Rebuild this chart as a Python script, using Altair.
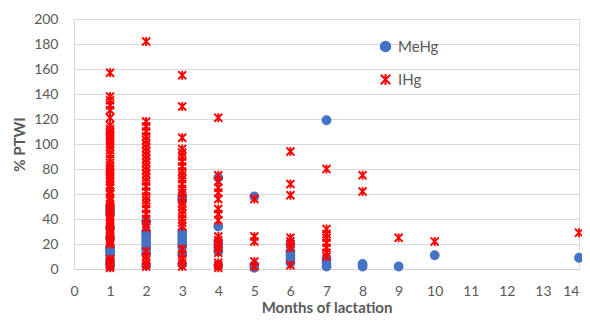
import altair as alt
import pandas as pd

# MeHg series (months, % PTWI)
mehg_months = [1]*12 + [2]*9 + [3]*9 + [4]*6 + [5]*3 + [6]*5 + [7]*4 + [8]*2 + [9, 10, 14]
mehg_values = [2, 5, 8, 12, 14, 16, 18, 25, 33, 44, 47, 50,
               3, 12, 16, 19, 22, 25, 28, 30, 38,
               4, 12, 18, 21, 24, 27, 30, 55, 58,
               3, 14, 18, 22, 34, 73,
               1, 3, 58,
               5, 8, 11, 14, 20,
               2, 5, 8, 119,
               2, 4,
               2, 11, 9]

# IHg series
ihg_m1 = [157, 138, 135, 131, 127, 121, 115, 112, 110, 108, 106, 104, 102, 100, 98, 95, 92, 88,
          85, 82, 80, 78, 76, 74, 72, 70, 67, 65, 62, 60, 57, 55, 52, 50, 48, 46, 42, 40, 38, 36,
          34, 32, 30, 28, 26, 24, 22, 20, 8, 6, 4, 2, 1]
ihg_m2 = [182, 118, 114, 110, 106, 103, 100, 97, 94, 91, 88, 85, 82, 79, 76, 73, 70, 66, 62, 58,
          55, 52, 48, 44, 40, 36, 33, 14, 10, 7, 4, 2]
ihg_m3 = [155, 130, 105, 96, 93, 90, 86, 82, 78, 75, 72, 68, 64, 61, 57, 53, 50, 47, 44, 40, 37,
          34, 16, 12, 8, 5, 2]
ihg_m4 = [121, 75, 70, 65, 61, 56, 48, 44, 39, 26, 23, 20, 17, 13, 5, 3, 1]
ihg_m5 = [56, 26, 22, 6, 2]
ihg_m6 = [94, 68, 59, 25, 22, 20, 17, 3]
ihg_m7 = [80, 32, 28, 25, 21, 17, 13, 10]
ihg_m8 = [75, 62]
ihg_m9 = [25]
ihg_m10 = [22]
ihg_m14 = [29]

ihg_groups = [(1, ihg_m1), (2, ihg_m2), (3, ihg_m3), (4, ihg_m4), (5, ihg_m5), (6, ihg_m6),
              (7, ihg_m7), (8, ihg_m8), (9, ihg_m9), (10, ihg_m10), (14, ihg_m14)]

series_names = ["MeHg", "IHg"]
series_colors = ["#4472C4", "#FF0000"]
star_path = "M-1,-1L1,1M-1,1L1,-1M0,-1.15L0,1.15"

rows = [{"month": m, "ptwi": v, "series": "MeHg"} for m, v in zip(mehg_months, mehg_values)]
for m, vals in ihg_groups:
    rows += [{"month": m, "ptwi": v, "series": "IHg"} for v in vals]
df = pd.DataFrame(rows)

FONT = "Lato"
GREY = "#595959"

legend = alt.Legend(title=None, orient="none", legendX=304, legendY=20, padding=0,
                    labelFontSize=15, labelColor=GREY, labelFont=FONT, rowPadding=14,
                    symbolSize=90, symbolStrokeWidth=2, labelOffset=5)

chart = alt.Chart(df).mark_point(size=64, strokeWidth=1.8, opacity=1, filled=False).encode(
    x=alt.X("month:Q", scale=alt.Scale(domain=[0, 14], nice=False),
            axis=alt.Axis(values=list(range(0, 15)), title="Months of lactation", grid=False,
                          ticks=False, labelPadding=15, labelFontSize=14, labelColor=GREY,
                          labelFont=FONT, titleFont=FONT, titleFontSize=15, titleColor=GREY,
                          titleFontWeight="bold", titlePadding=2, domainColor="#d0d0d0",
                          labelFlush=False,
                          labelAlign={"condition": {"test": "datum.value == 14", "value": "right"},
                                      "value": "center"})),
    y=alt.Y("ptwi:Q", scale=alt.Scale(domain=[0, 200], nice=False),
            axis=alt.Axis(values=list(range(0, 201, 20)), title="% PTWI", grid=True,
                          gridColor="#d9d9d9", ticks=False, labelPadding=16, labelFontSize=14,
                          labelColor=GREY, labelFont=FONT, titleFont=FONT, titleFontSize=15,
                          titleColor=GREY, titleFontWeight="bold", titlePadding=6,
                          domainColor="#d9d9d9")),
    fill=alt.Fill("series:N", scale=alt.Scale(domain=series_names, range=series_colors), legend=legend),
    stroke=alt.Stroke("series:N", scale=alt.Scale(domain=series_names, range=series_colors), legend=legend),
    shape=alt.Shape("series:N", scale=alt.Scale(domain=series_names, range=["circle", star_path]), legend=legend),
).properties(
    width=505, height=250,
    autosize=alt.AutoSizeParams(type="none"),
    padding={"left": 66, "top": 11, "right": 3, "bottom": 48},
).configure_view(strokeWidth=0).configure(background="white")

chart.save("out.html", embed_options={"renderer": "svg", "actions": False})
